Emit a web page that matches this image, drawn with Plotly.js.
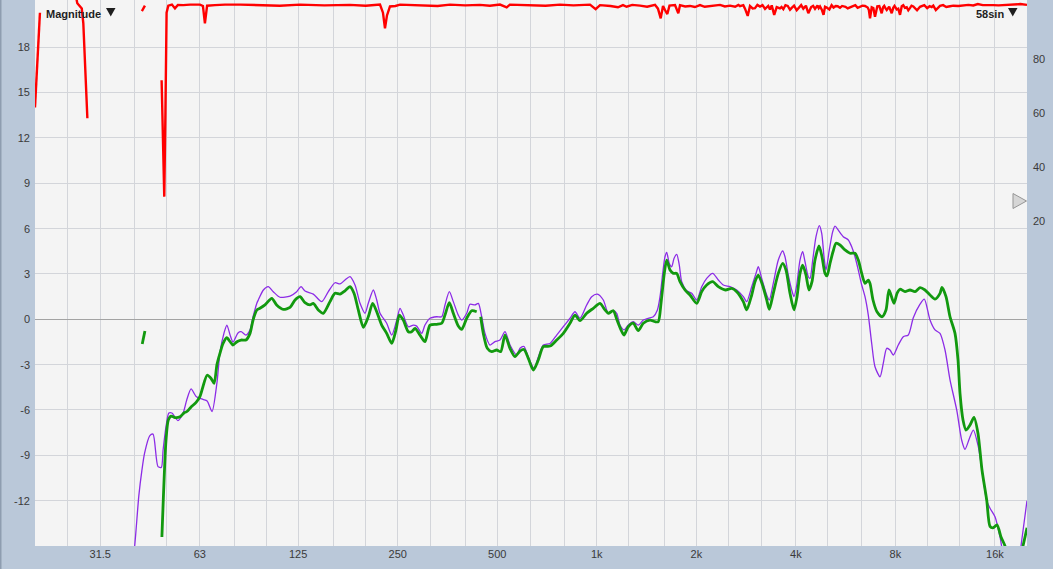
<!DOCTYPE html>
<html>
<head>
<meta charset="utf-8">
<script src="https://cdn.plot.ly/plotly-3.0.1.min.js"></script>
<style>
html,body{margin:0;padding:0;background:#bac8d9;}
#chart{width:1053px;height:569px;}
</style>
</head>
<body>
<div id="chart"></div>
<script>
// ---- data (frequency in Hz, magnitude in dB, coherence in %) ----
const purpleFreq = [39.3,39.9,41.2,42.1,42.9,44.5,45.5,47.1,48.2,48.8,49.8,50.8,51.9,54.1,56.1,57.5,59.3,61.4,64.4,66.3,68.6,71.0,72.5,74.6,76.1,77.8,79.4,82.2,84.0,86.9,89.4,91.3,93.8,94.7,98.1,101.5,105.1,110.1,118.1,123.7,127.5,131.1,138.9,147.3,154.2,161.5,167.3,173.2,179.3,185.7,192.3,199.1,203.7,210.9,216.0,221.0,231.5,239.8,248.3,254.0,259.9,269.2,278.7,285.3,295.5,302.3,313.0,328.0,339.6,347.5,358.1,368.2,381.2,390.4,404.2,413.6,428.2,438.2,448.7,459.1,475.4,492.2,509.6,527.7,546.4,572.5,585.8,602.3,620.7,645.8,665.5,689.0,721.9,756.4,792.0,829.8,859.2,889.7,932.1,965.2,1003.6,1046.4,1083.5,1121.9,1148.7,1175.3,1208.5,1245.3,1289.5,1335.2,1382.5,1431.4,1482.1,1524.1,1553.0,1582.5,1607.9,1627.1,1656.8,1684.9,1712.0,1744.4,1776.3,1806.2,1870.2,1936.5,2005.2,2076.3,2149.9,2241.5,2330.5,2413.1,2528.4,2649.1,2774.0,2840.1,2941.2,3031,3079.2,3153.2,3265.0,3324.2,3418.1,3539.2,3649.5,3708.4,3794.7,3885.6,3948.3,4023.3,4116.7,4194.8,4262.9,4362.0,4414,4497.4,4602.1,4709.1,4788.5,4865.8,4933.6,5048.3,5169.7,5253.1,5375.1,5565.4,5762.6,5900.3,6037.5,6177.8,6326.3,6473.2,6623.7,6782.5,6939.6,7185.9,7353.3,7529.5,7704.6,7883.8,8161.8,8451.6,8751.1,9061.9,9494.5,9782.8,10178.9,10539,10913,11300,11700,12259,12693,12988,13384,13760,14248,14753,15106,15458,16006,16573,16924,17766,18917,19180,20000];
const purpleDb = [-16,-15.3,-11.7,-10.0,-8.85,-7.7,-7.6,-9.75,-9.8,-8.65,-7.1,-6.2,-6.2,-6.7,-6.2,-5.35,-4.6,-5.1,-5.3,-5.4,-6.1,-4.2,-2.2,-0.9,-0.38,-1.04,-1.5,-0.9,-0.82,-1.04,-0.7,0.17,1.08,1.28,1.94,2.16,1.83,1.46,1.54,1.83,2.16,1.87,1.67,1.17,1.83,2.42,2.34,2.6,2.82,2.27,1.06,0.4,1.06,1.94,1.28,0.4,-0.26,-1.04,-0.05,0.73,0.28,-0.49,-0.38,-0.45,-0.93,-0.38,0.07,0.17,0.17,0.95,1.83,1.17,0.28,-0.05,0.4,1.0,0.95,1.06,0.17,-0.93,-1.7,-1.48,-1.37,-0.82,-1.7,-2.36,-1.92,-1.8,-2.5,-3.25,-2.5,-1.7,-1.6,-1.04,-0.49,0.07,0.5,0.07,0.95,1.5,1.67,1.28,0.4,0.57,0.4,-0.38,-0.7,-0.38,-0.16,-0.38,-0.05,0.07,0.17,0.6,1.5,3.04,4.14,4.43,3.7,3.48,4.03,4.3,3.59,2.49,1.9,1.72,1.28,2.16,2.71,3.04,2.6,2.27,2.16,1.94,1.5,1.17,2.16,3.04,3.48,2.71,1.61,1.28,2.38,3.92,4.52,4.14,2.93,1.94,1.5,2.27,3.92,4.47,3.81,2.82,2.71,3.92,5.47,6.2,5.69,4.14,3.26,4.59,5.8,6.17,5.9,5.47,5.25,4.8,4.14,3.26,2.27,1.5,0.28,-1.6,-3.14,-3.8,-2.9,-1.92,-2.03,-2.36,-1.7,-1.15,-1.04,0.1,1.0,1.34,-0.05,-0.7,-0.93,-2.03,-4.0,-6.0,-8.0,-8.6,-7.9,-7.33,-8.43,-10.6,-12.0,-12.5,-13.06,-14.4,-15.5,-17,-16,-15.0,-12.0];

const greenFreq = [42.2,43.0,null,48.4,49.8,50.6,51.6,53.0,54.9,56.4,57.6,59.3,61.4,63.1,64.4,66.3,68.1,69.6,71.0,72.5,74.1,76.0,77.8,79.4,81.6,84.0,86.9,89.4,91.3,93.8,95.8,99.2,104.0,107.6,112.7,118.1,122.3,126.6,131.1,135.7,138.9,143.8,148.9,156.0,161.5,167.3,173.2,179.3,184.4,190.0,196.8,203.7,210.0,216.0,223.6,231.5,239.8,247.0,252.8,259.9,269.2,275.6,282.0,292.0,302.3,313.0,328.0,339.6,347.5,358.1,368.2,381.2,390.4,404.2,418.5,433.3,null,445.6,453.7,466.5,481.1,498.1,512.1,527.7,546.4,565.8,585.8,602.3,620.7,642.7,665.5,689.0,721.9,756.4,792.0,829.8,859.2,889.7,932.1,976.0,1022.6,1058.8,1083.5,1121.9,1151.2,1183.7,1208.5,1245.3,1289.5,1335.2,1382.5,1448.5,1499.9,1534.7,1563.8,1600.1,1627.1,1665.0,1703.7,1744.4,1785.0,1848.3,1913.9,2005.2,2076.3,2149.9,2241.5,2330.5,2449.8,2559,2649.1,2774.0,2840.1,2941.2,3009,3079.2,3181.6,3265.0,3324.2,3418.1,3539.2,3649.5,3734.3,3839.7,3948.3,4031.7,4116.7,4194.8,4292.6,4383.2,4475.6,4569.9,4698.9,4797.7,4899.6,4968.2,5073.2,5180.2,5289.5,5439.1,5631.5,5831.2,6037.5,6177.8,6326.3,6473.2,6623.7,6702.6,6844.2,7037.0,7286.8,7492.6,7650.8,7922.1,8089.6,8260.1,8553.0,8855.6,9169.9,9494.5,9830.4,10178.9,10539,10913,11066,11379,11700,12115,12371,12544,12809,13080,13448,13828,14218,14620,15106,15458,15785,16230,16689,17161,18019,19180,20000];
const greenDb = [-1.63,-0.77,null,-14.4,-8.0,-6.66,-6.4,-6.5,-6.45,-6.2,-6.1,-5.8,-5.5,-5.1,-4.46,-3.7,-3.9,-4.24,-3.0,-2.25,-1.59,-1.22,-1.48,-1.7,-1.48,-1.37,-1.37,-0.93,-0.05,0.62,0.73,0.95,1.39,0.95,0.66,0.79,1.28,1.5,1.1,0.95,1.06,0.62,0.4,1.17,1.72,1.67,1.89,2.16,1.72,0.62,-0.53,0.17,1.06,0.5,-0.38,-0.93,-1.59,-0.7,0.28,-0.05,-0.82,-0.82,-0.6,-1.04,-1.48,-0.38,-0.33,-0.26,0.28,1.1,0.4,-0.44,-0.66,0.07,0.57,0.5,null,0.17,-0.93,-1.92,-2.14,-2.03,-2.14,-1.04,-1.92,-2.47,-2.1,-2.0,-2.58,-3.36,-2.69,-1.81,-1.77,-1.37,-0.93,-0.26,0.28,-0.09,0.4,0.73,1.06,0.62,0.4,0.57,-0.05,-0.7,-1.04,-0.49,-0.26,-0.75,-0.26,-0.05,-0.16,-0.16,1.06,3.04,3.92,3.26,3.04,3.04,2.49,1.94,1.61,1.06,1.83,2.27,2.49,2.16,1.94,2.05,1.83,1.17,0.62,1.61,2.49,2.93,2.16,1.28,0.66,1.72,3.04,3.7,3.26,1.72,0.62,1.5,3.04,3.59,2.93,1.94,2.49,3.92,4.85,4.14,3.04,2.87,3.7,4.47,5.03,4.92,4.59,4.37,4.37,3.92,3.04,2.38,2.6,2.38,1.28,0.5,0.17,0.62,1.94,1.06,1.72,1.99,1.83,1.94,1.83,2.09,1.94,1.61,1.34,1.72,2.12,1.5,0.17,-0.93,-2.69,-4.9,-6.66,-7.33,-7.0,-6.49,-7.55,-9.97,-11.96,-13.7,-13.8,-13.6,-14.4,-15.0,-17,-15.5,-13.8];

const cohFreq = [20,20.35,20.7,null,26.6,26.85,27.7,28.0,28.8,null,42.1,43.0,null,48.3,48.6,49.2,49.6,50.0,50.6,51.9,53.0,54.1,56.1,58.9,63.1,64.4,65.3,66.3,70.0,75.1,83.4,95.8,110,126.6,150,179.3,200,221,225.6,228.8,232,236.9,246,254,292,330,359.8,400,443,475,509.6,534,546,628,700,774,850,954,992,1022.6,1100,1159,1200,1231,1280,1351,1420,1500,1531,1560.6,1585.8,1607.9,1634,1659,1724,1764,1785,1850,1914,1980,2052,2120,2200,2280,2359,2440,2528,2620,2680,2711,2774,2807,2860,2906,2960,3009,3060,3116,3170,3227,3300,3340,3381,3440,3500,3580,3620,3665,3720,3780,3840,3886,3950,4023,4100,4150,4212,4290,4362,4450,4510,4570,4650,4690,4732,4800,4850,4900,4958,5050,5130,5200,5280,5350,5439,5520,5650,5740,5831,5940,6050,6150,6252,6360,6473,6596,6650,6703,6782,6860,6940,7052,7150,7271,7340,7400,7470,7530,7660,7796,7880,7950,8073,8160,8260,8360,8450,8550,8654,8750,8850,8950,9062,9180,9300,9495,9620,9780,9979,10150,10300,10415,10600,10750,10913,11150,11400,11700,11972,12400,12800,13300,13760,14200,14700,15200,15818,16400,17000,17600,18181,19100,20000];
const cohPct = [62,80,97,null,103,100.5,98.6,93.1,58,null,97.6,99.6,null,72,52,29,60,97,99.6,100,98.6,99.9,99.8,100,100,99.5,93.1,99.6,99.8,100,100,99.9,99.6,100,99.7,99.9,99.6,100,97,91.2,96,99.3,99.5,100,99.8,99.5,100,99.7,99.9,99.6,100,99,100,99.8,99.6,100,99.7,100,98.3,99.8,99.5,99,99.8,99.2,99.9,99.6,99.2,99.9,98.5,94.9,99.5,98,96.5,99.6,99.8,96.8,99.8,99.3,99.5,99.1,99.8,99.2,99.4,99.7,99.9,99.3,99.6,99.2,99.9,99.4,99.8,98.5,95.8,99.5,98.6,98.7,99.9,99.3,99.8,98.4,99.5,98.2,99.7,96.2,99.1,98.6,99.1,98.3,99.8,99.5,98.1,98.8,99.6,97.9,99.3,99.8,98.5,99.6,96.8,99.1,99.5,98.4,99.7,98.7,99.3,97.9,96.2,99.2,98.9,98.2,99.8,98.9,99.5,99.4,98.8,99.5,99.2,98.6,99.0,99.4,99.8,98.8,99.3,99.6,99.5,98.9,98.0,94.9,99.0,98.7,95.5,99.4,99.5,96.8,99.0,99.5,98.6,98.0,99.2,96.8,98.8,99.5,98.2,98.5,96.2,99.4,99.8,98.8,99.0,97.9,98.7,99.6,99.3,98.6,97.9,99.2,99.6,99.8,98.7,99.4,99.1,99.6,98.0,98.8,99.5,99.8,99.1,99.4,99.6,99.5,99.8,99.9,99.7,100.2,99.8,99.9,99.8,99.7,99.8,100.0,99.9,100.2,99.9,99.85];

const xGridFreqs = [25,31.5,40,50,63,80,100,125,160,200,250,315,400,500,630,800,1000,1250,1600,2000,2500,3150,4000,5000,6300,8000,10000,12500,16000];
const xTickLabels = ['','31.5','','','63','','','125','','','250','','','500','','','1k','','','2k','','','4k','','','8k','','','16k'];
const yTickVals = [-12,-9,-6,-3,0,3,6,9,12,15,18];
const yTickLabels = ['-12','-9','-6','-3','0','3','6','9','12','15','18'];
const y2TickVals = [20,40,60,80];
const y2TickLabels = ['20','40','60','80'];

// ---- layout helpers (pixel -> paper) ----
const W = 1053, H = 569, ML = 35, MR = 26, MT = 0, MB = 23;
const PW = W - ML - MR, PH = H - MT - MB;
const px = x => (x - ML) / PW;
const py = y => (H - MB - y) / PH;
function tri(a, b, c) {
  return `M ${px(a[0])} ${py(a[1])} L ${px(b[0])} ${py(b[1])} L ${px(c[0])} ${py(c[1])} Z`;
}

const FONT = 'Liberation Sans, Arial, Helvetica, sans-serif';

const traces = [
  {x: purpleFreq, y: purpleDb, type: 'scatter', mode: 'lines', name: 'purple',
   line: {color: '#8c2be6', width: 1.3, shape: 'spline', smoothing: 0.7}, connectgaps: false, hoverinfo: 'skip'},
  {x: greenFreq, y: greenDb, type: 'scatter', mode: 'lines', name: 'green',
   line: {color: '#12990f', width: 2.8, shape: 'spline', smoothing: 0.7}, connectgaps: false, hoverinfo: 'skip'},
  {x: cohFreq, y: cohPct, type: 'scatter', mode: 'lines', name: 'coherence', yaxis: 'y2',
   line: {color: '#ff0000', width: 2.4}, connectgaps: false, hoverinfo: 'skip'}
];

const layout = {
  width: W, height: H,
  margin: {l: ML, r: MR, t: MT, b: MB, pad: 0},
  paper_bgcolor: '#bac8d9',
  plot_bgcolor: '#f4f4f4',
  showlegend: false,
  font: {family: FONT, size: 11, color: '#3a3a3a'},
  xaxis: {
    type: 'log', range: [Math.log10(20), Math.log10(20000)],
    tickmode: 'array', tickvals: xGridFreqs, ticktext: xTickLabels,
    showgrid: true, gridcolor: '#d3d5da', gridwidth: 1,
    zeroline: false, showline: false, ticks: '',
    tickfont: {family: FONT, size: 11, color: '#3a3a3a'}, fixedrange: true
  },
  yaxis: {
    range: [-15, 21.13],
    tickmode: 'array', tickvals: yTickVals, ticktext: yTickLabels,
    showgrid: true, gridcolor: '#d3d5da', gridwidth: 1,
    zeroline: true, zerolinecolor: '#a3a3a3', zerolinewidth: 1,
    showline: false, ticks: '', ticklabelstandoff: 4,
    tickfont: {family: FONT, size: 11, color: '#3a3a3a'}, fixedrange: true
  },
  yaxis2: {
    overlaying: 'y', side: 'right', range: [-100.15, 101.7],
    tickmode: 'array', tickvals: y2TickVals, ticktext: y2TickLabels,
    showgrid: false, zeroline: false, showline: false, ticks: '', ticklabelstandoff: 5,
    tickfont: {family: FONT, size: 11, color: '#3a3a3a'}, fixedrange: true
  },
  annotations: [
    {xref: 'paper', yref: 'paper', x: px(44), y: py(14), xanchor: 'left', yanchor: 'middle',
     text: '<b>Magnitude</b>', showarrow: false, font: {family: FONT, size: 11, color: '#1e1e1e'}},
    {xref: 'paper', yref: 'paper', x: px(974), y: py(14), xanchor: 'left', yanchor: 'middle',
     text: '<b>58sin</b>', showarrow: false, font: {family: FONT, size: 11, color: '#1e1e1e'}}
  ],
  shapes: [
    {type: 'path', xref: 'paper', yref: 'paper', path: tri([106, 8], [115.5, 8], [110.75, 16.5]),
     fillcolor: '#1e1e1e', line: {width: 0}},
    {type: 'path', xref: 'paper', yref: 'paper', path: tri([1008, 8], [1017.5, 8], [1012.75, 16.5]),
     fillcolor: '#1e1e1e', line: {width: 0}},
    {type: 'path', xref: 'paper', yref: 'paper', path: tri([1013, 193.5], [1013, 208.5], [1026.5, 201]),
     fillcolor: '#d6d6d6', line: {color: '#959595', width: 1}},
    {type: 'rect', xref: 'paper', yref: 'paper', x0: px(0), x1: px(1.5), y0: py(H), y1: py(0),
     fillcolor: '#8e9db0', line: {width: 0}, layer: 'below'}
  ]
};

Plotly.newPlot('chart', traces, layout, {staticPlot: true, displayModeBar: false});
</script>
</body>
</html>
